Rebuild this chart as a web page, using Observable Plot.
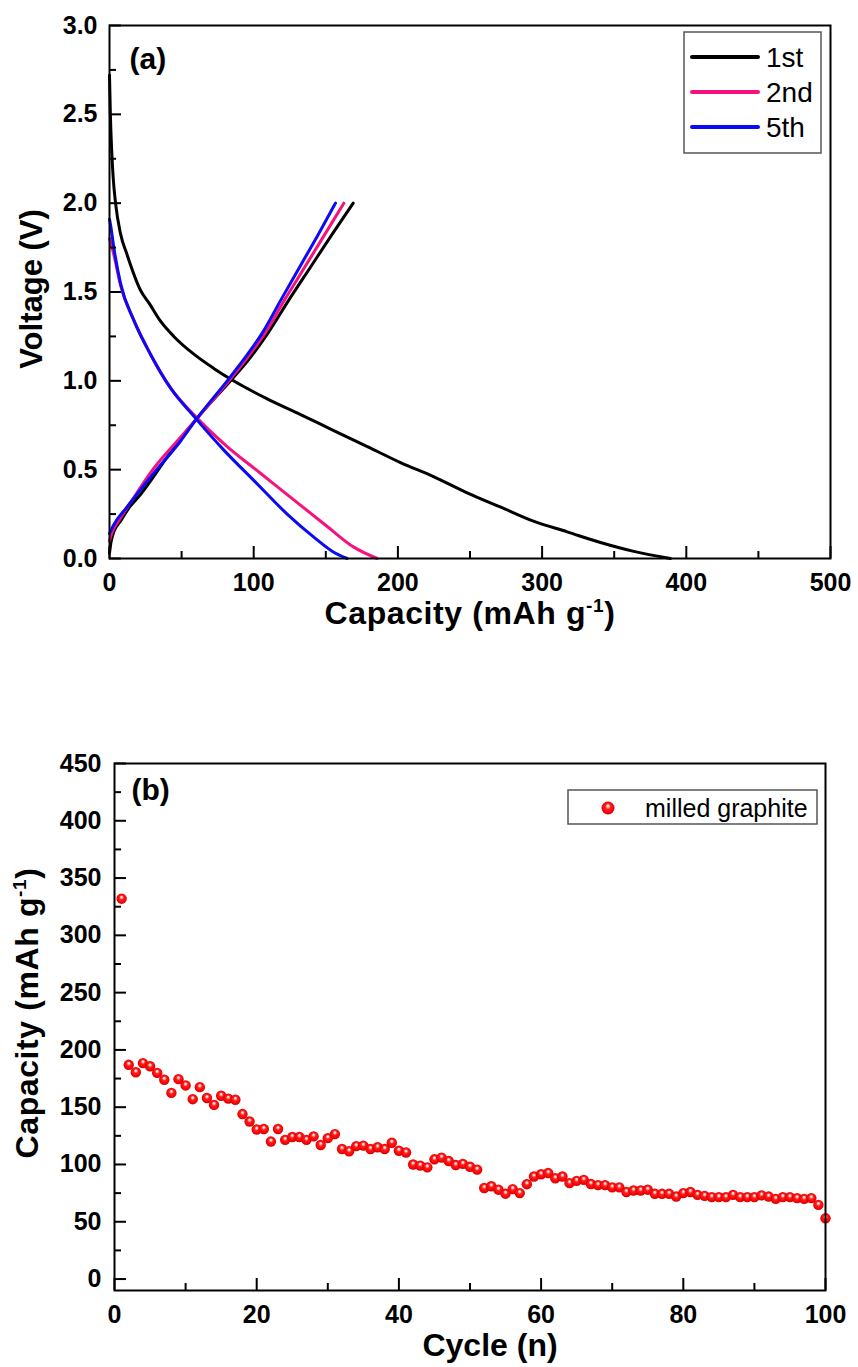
<!DOCTYPE html>
<html><head><meta charset="utf-8">
<script src="https://cdn.jsdelivr.net/npm/d3@7"></script>
<script src="https://cdn.jsdelivr.net/npm/@observablehq/plot@0.6"></script>
<style>
html,body{margin:0;padding:0;background:#fff;}
#wrap{width:858px;}
#wrap svg{display:block;}
</style></head><body><div id="wrap"></div>
<script>
// ---------- Panel (a) data: voltage profiles ----------
const seriesNames = ["1st", "2nd", "5th"];
const seriesColors = ["#000000", "#f5127f", "#0a0af5"];

const cycle1DischargeCap = [0, 0.6, 1.5, 2.5, 4.2, 7.6, 12.2, 21.5, 28, 35, 44.6, 58.5, 72.3, 86, 109, 132.5, 155.5, 178.8, 201.8, 225, 248, 271, 294, 317.4, 340.5, 363.6, 389];
const cycle1DischargeV   = [2.72, 2.5, 2.3, 2.15, 2.0, 1.83, 1.71, 1.51, 1.43, 1.34, 1.25, 1.15, 1.07, 1.0, 0.90, 0.81, 0.72, 0.63, 0.54, 0.46, 0.37, 0.29, 0.21, 0.15, 0.09, 0.04, 0.0];
const cycle1ChargeCap = [0, 1, 3, 7.6, 14, 21.5, 40, 60.8, 85, 97.5, 110, 124, 139, 154, 169];
const cycle1ChargeV   = [0.03, 0.09, 0.15, 0.21, 0.29, 0.36, 0.57, 0.79, 1.01, 1.13, 1.27, 1.45, 1.635, 1.82, 2.0];

const cycle2DischargeCap = [0, 3, 7.6, 16.9, 28.4, 42.3, 59.6, 81.6, 104.7, 127.8, 151, 169.4, 185.6];
const cycle2DischargeV   = [1.80, 1.71, 1.54, 1.34, 1.15, 0.96, 0.80, 0.63, 0.48, 0.33, 0.18, 0.064, 0];
const cycle2ChargeCap = [0, 2, 7, 15, 30, 49, 60.8, 83.8, 95.5, 108, 121, 135, 149, 162.5];
const cycle2ChargeV   = [0.10, 0.15, 0.22, 0.32, 0.50, 0.68, 0.79, 1.01, 1.13, 1.27, 1.45, 1.635, 1.82, 2.0];

const cycle5DischargeCap = [0, 0.7, 3, 7.6, 16.9, 28.4, 42.3, 59.6, 79.3, 100, 123.2, 141.7, 155.5, 164.8];
const cycle5DischargeV   = [1.91, 1.88, 1.75, 1.55, 1.34, 1.15, 0.96, 0.79, 0.61, 0.44, 0.25, 0.12, 0.035, 0];
const cycle5ChargeCap = [0, 3, 12.2, 30.7, 49.2, 60.8, 82.6, 94, 106, 118.5, 131.5, 144.5, 156.7];
const cycle5ChargeV   = [0.14, 0.19, 0.29, 0.48, 0.66, 0.79, 1.01, 1.13, 1.27, 1.45, 1.635, 1.82, 2.0];

const xMajorA = [0, 100, 200, 300, 400, 500];
const xMinorA = [50, 150, 250, 350, 450];
const yMajorA = [0, 0.5, 1.0, 1.5, 2.0, 2.5, 3.0];
const yMinorA = [0.25, 0.75, 1.25, 1.75, 2.25, 2.75];
const xTitleA = "Capacity (mAh g-1)";
const yTitleA = "Voltage (V)";

// ---------- Panel (b) data: cycling ----------
const cycles = [1,2,3,4,5,6,7,8,9,10,11,12,13,14,15,16,17,18,19,20,21,22,23,24,25,26,27,28,29,30,31,32,33,34,35,36,37,38,39,40,41,42,43,44,45,46,47,48,49,50,51,52,53,54,55,56,57,58,59,60,61,62,63,64,65,66,67,68,69,70,71,72,73,74,75,76,77,78,79,80,81,82,83,84,85,86,87,88,89,90,91,92,93,94,95,96,97,98,99,100];
const capacities = [332, 187, 180.5, 188.5, 185.7, 180, 174, 162.5, 174.5, 169,
  157, 167.5, 158, 152, 160, 157.5, 156.5, 144, 137.5, 130.5,
  131, 120, 131, 121.5, 124, 124, 121.5, 124.5, 117, 123,
  126.5, 113.5, 111.5, 116, 116.5, 113.5, 115, 113.5, 119, 112,
  110.5, 100, 99, 97.5, 104.5, 106, 103, 99.5, 100.5, 98,
  95.5, 79.5, 81, 78, 74.5, 78.5, 75, 82.8, 89.5, 91.5,
  92.5, 88, 89.5, 83.7, 85.7, 86.6, 83, 82, 82, 80,
  80, 76, 77.3, 77.3, 78, 74.4, 74.4, 74.4, 72, 75,
  76, 73.5, 72.6, 71.5, 71.5, 71.5, 73.5, 71.5, 71.5, 71.5,
  73, 72, 70, 71.5, 71.5, 70.6, 70, 70.6, 64.7, 53];
const seriesNameB = "milled graphite";
const xMajorB = [0, 20, 40, 60, 80, 100];
const xMinorB = [10, 30, 50, 70, 90];
const yMajorB = [0, 50, 100, 150, 200, 250, 300, 350, 400, 450];
const yMinorB = [25, 75, 125, 175, 225, 275, 325, 375, 425];
const xTitleB = "Cycle (n)";
const yTitleB = "Capacity (mAh g-1)";

// ---------- tables ----------
const curveDefs = [
  ["1st", "discharge", cycle1DischargeCap, cycle1DischargeV],
  ["1st", "charge", cycle1ChargeCap, cycle1ChargeV],
  ["2nd", "discharge", cycle2DischargeCap, cycle2DischargeV],
  ["2nd", "charge", cycle2ChargeCap, cycle2ChargeV],
  ["5th", "discharge", cycle5DischargeCap, cycle5DischargeV],
  ["5th", "charge", cycle5ChargeCap, cycle5ChargeV]
];
const rowsA = curveDefs.flatMap(([series, branch, caps, vs]) =>
  caps.map((c, i) => ({series, curve: series + "-" + branch, cap: c, v: vs[i]})));
const rowsB = cycles.map((n, i) => ({cycle: n, cap: capacities[i]}));

const FONT = "'Liberation Sans', Arial, Helvetica, sans-serif";
const fmt1 = d3.format(".1f");

// inward ticks drawn as short rules (frame size in px)
function axesFor(frameW, frameH, xMajor, xMinor, yMajor, yMinor, yFmt, padX, padY) {
  return [
    Plot.ruleX(xMajor, {x: d => d, insetTop: frameH - 12, strokeWidth: 2}),
    Plot.ruleX(xMinor, {x: d => d, insetTop: frameH - 7, strokeWidth: 2}),
    Plot.ruleY(yMajor, {y: d => d, insetRight: frameW - 12, strokeWidth: 2}),
    Plot.ruleY(yMinor, {y: d => d, insetRight: frameW - 7, strokeWidth: 2}),
    Plot.axisX({ticks: xMajor, tickSize: 0, tickPadding: padX, fontSize: 25, fontWeight: "bold", label: null}),
    Plot.axisY({ticks: yMajor, tickSize: 0, tickPadding: padY, fontSize: 25, fontWeight: "bold", tickFormat: yFmt, label: null}),
    Plot.frame({stroke: "#000", strokeWidth: 2})
  ];
}

const A = {width: 858, height: 690, top: 25, right: 28, bottom: 132, left: 109};
const pa = Plot.plot({
  width: A.width, height: A.height,
  marginTop: A.top, marginRight: A.right, marginBottom: A.bottom, marginLeft: A.left,
  style: {fontFamily: FONT, color: "#000", background: "#fff", overflow: "visible"},
  x: {domain: [0, 500]},
  y: {domain: [0, 3]},
  color: {domain: seriesNames, range: seriesColors},
  marks: [
    Plot.line(rowsA, {x: "cap", y: "v", z: "curve", stroke: "series", strokeWidth: 3, curve: "monotone-x"}),
    ...axesFor(A.width - A.left - A.right, A.height - A.top - A.bottom, xMajorA, xMinorA, yMajorA, yMinorA, fmt1, 15, 12),
    Plot.text(["(a)"], {text: d => d, frameAnchor: "top-left", dx: 20, dy: 22, lineAnchor: "top", textAnchor: "start", fontSize: 30, fontWeight: "bold"}),
    Plot.text([xTitleA], {text: d => d, frameAnchor: "bottom", dy: 43, lineAnchor: "top", textAnchor: "middle", fontSize: 32, fontWeight: "bold"}),
    Plot.text([yTitleA], {text: d => d, frameAnchor: "left", dx: -90, dy: -3, rotate: -90, lineAnchor: "top", textAnchor: "middle", fontSize: 31, fontWeight: "bold"})
  ]
});

const B = {width: 858, height: 677, top: 73, right: 33, bottom: 77, left: 114};
const pb = Plot.plot({
  width: B.width, height: B.height,
  marginTop: B.top, marginRight: B.right, marginBottom: B.bottom, marginLeft: B.left,
  style: {fontFamily: FONT, color: "#000", background: "#fff", overflow: "visible"},
  x: {domain: [0, 100]},
  y: {domain: [-10, 450]},
  marks: [
    Plot.dot(rowsB, {x: "cycle", y: "cap", r: 5.2, fill: "url(#ball)"}),
    ...axesFor(B.width - B.left - B.right, B.height - B.top - B.bottom, xMajorB, xMinorB, yMajorB, yMinorB, d3.format("d"), 15, 13),
    Plot.text(["(b)"], {text: d => d, frameAnchor: "top-left", dx: 17, dy: 15, lineAnchor: "top", textAnchor: "start", fontSize: 30, fontWeight: "bold"}),
    Plot.text([xTitleB], {text: d => d, frameAnchor: "bottom", dx: 20, dy: 43, lineAnchor: "top", textAnchor: "middle", fontSize: 32, fontWeight: "bold"}),
    Plot.text([yTitleB], {text: d => d, frameAnchor: "left", dx: -99, dy: -14, rotate: -90, lineAnchor: "top", textAnchor: "middle", fontSize: 32, fontWeight: "bold"})
  ]
});

// gradient for the 3D ball markers
d3.select(pb).insert("defs", ":first-child").html(
  '<radialGradient id="ball" cx="0.5" cy="0.5" r="0.55" fx="0.5" fy="0.32">' +
  '<stop offset="0" stop-color="#ffffff"/>' +
  '<stop offset="0.15" stop-color="#ffd0d0"/>' +
  '<stop offset="0.38" stop-color="#ff2020"/>' +
  '<stop offset="0.8" stop-color="#f20000"/>' +
  '<stop offset="1" stop-color="#b80000"/>' +
  '</radialGradient>');

// superscripts in unit labels
function superscriptize(svg) {
  d3.select(svg).selectAll("text").each(function() {
    if (this.textContent === "Capacity (mAh g-1)") {
      const t = d3.select(this);
      t.text("").style("letter-spacing", "0.6px");
      t.append("tspan").text("Capacity (mAh g");
      t.append("tspan").attr("dy", -12).attr("font-size", 19).text("-1");
      t.append("tspan").attr("dy", 12).text(")");
    }
  });
}
superscriptize(pa);
superscriptize(pb);

// legend (a)
(function() {
  const g = d3.select(pa).append("g").attr("font-family", FONT).attr("text-anchor", "start");
  g.append("rect").attr("x", 684).attr("y", 32).attr("width", 137).attr("height", 121)
    .attr("fill", "#fff").attr("stroke", "#555").attr("stroke-width", 1.5);
  seriesNames.forEach((name, i) => {
    const y = 57 + i * 35;
    g.append("line").attr("x1", 692).attr("x2", 758).attr("y1", y).attr("y2", y)
      .attr("stroke", seriesColors[i]).attr("stroke-width", 4).attr("stroke-linecap", "round");
    g.append("text").attr("x", 766).attr("y", y).attr("dy", "0.36em").attr("font-size", 28)
      .attr("fill", "#000").attr("text-anchor", "start").text(name);
  });
})();

// legend (b)
(function() {
  const g = d3.select(pb).append("g").attr("font-family", FONT).attr("text-anchor", "start");
  g.append("rect").attr("x", 568).attr("y", 100).attr("width", 249).attr("height", 34)
    .attr("fill", "#fff").attr("stroke", "#555").attr("stroke-width", 1.5);
  g.append("circle").attr("cx", 608).attr("cy", 118).attr("r", 6.5).attr("fill", "url(#ball)");
  g.append("text").attr("x", 645).attr("y", 118).attr("dy", "0.36em").attr("font-size", 25)
    .attr("fill", "#000").attr("text-anchor", "start").text(seriesNameB);
})();

document.getElementById("wrap").append(pa, pb);
</script>
</body></html>
